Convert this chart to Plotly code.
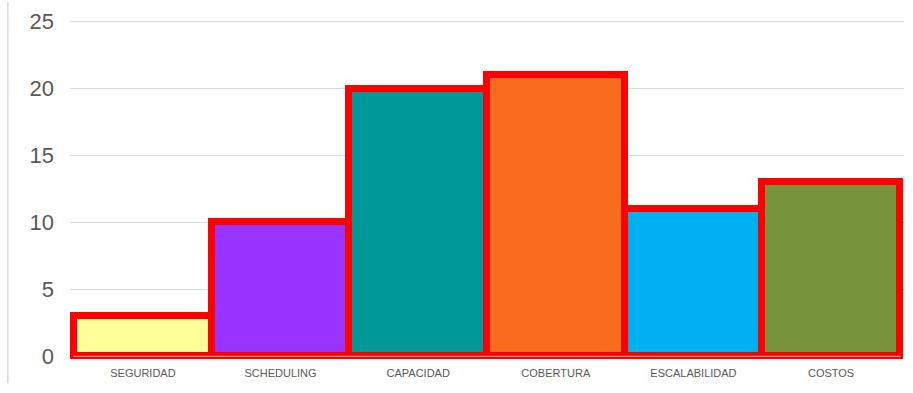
import plotly.graph_objects as go

# Category counts
categories = ["SEGURIDAD", "SCHEDULING", "CAPACIDAD", "COBERTURA", "ESCALABILIDAD", "COSTOS"]
values = [3, 10, 20, 21, 11, 13]
bar_colors = ["#ffff99", "#9933ff", "#009999", "#f76b1c", "#00b0f0", "#77933c"]
y_ticks = [0, 5, 10, 15, 20, 25]

fig = go.Figure(
    go.Bar(
        x=categories,
        y=values,
        marker=dict(color=bar_colors, line=dict(color="#ff0000", width=7)),
        hoverinfo="x+y",
    )
)

fig.update_layout(
    width=913,
    height=393,
    margin=dict(l=70, r=9, t=17, b=32),
    paper_bgcolor="white",
    plot_bgcolor="white",
    bargap=0,
    showlegend=False,
    xaxis=dict(
        range=[-0.53, 5.53],
        showgrid=False,
        showline=False,
        zeroline=False,
        ticks="",
        ticklabelstandoff=4,
        tickfont=dict(family="Liberation Sans, Arial, sans-serif", size=11, color="#595959"),
    ),
    yaxis=dict(
        range=[-0.35, 25.2],
        tickvals=y_ticks,
        showgrid=True,
        gridcolor="#d9d9d9",
        gridwidth=1,
        zeroline=False,
        showline=False,
        ticks="",
        ticklabelstandoff=15,
        tickfont=dict(family="Liberation Sans, Arial, sans-serif", size=22, color="#595959"),
    ),
    shapes=[
        # thin baseline along zero
        dict(type="line", xref="paper", yref="y", x0=0.004, x1=0.996, y0=0, y1=0,
             line=dict(color="#f0a8a8", width=1), layer="above"),
        # left frame line
        dict(type="line", xref="paper", yref="paper", x0=-0.0745, x1=-0.0745, y0=-0.065, y1=1.05,
             line=dict(color="#d9d9d9", width=1.5)),
    ],
)

fig.write_html("out.html")
